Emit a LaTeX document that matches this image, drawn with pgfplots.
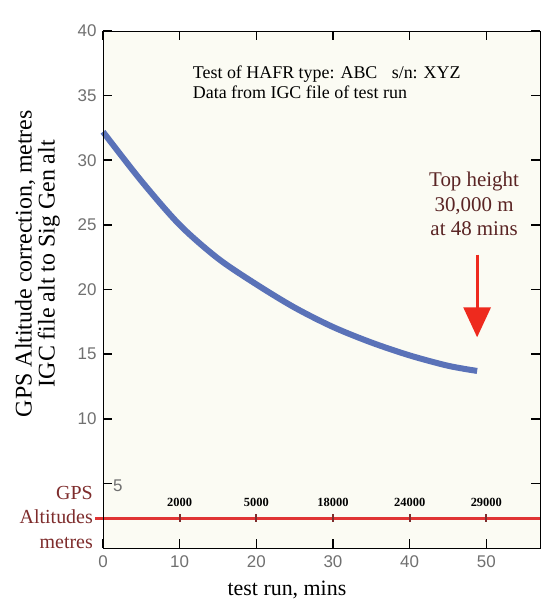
\documentclass[border=0pt]{standalone}
\usepackage{fontspec}
\setmainfont{Liberation Serif}
\setsansfont{Liberation Sans}
\usepackage{pgfplots}
\pgfplotsset{compat=1.18}
\usetikzlibrary{arrows.meta}

\definecolor{curveblue}{HTML}{5A72B8}
\definecolor{altred}{HTML}{E03434}
\definecolor{arrowred}{HTML}{EE2A1E}
\definecolor{darkred}{HTML}{7E2C2C}
\definecolor{notered}{HTML}{5A2424}
\definecolor{tickgray}{HTML}{707070}
\definecolor{cream}{HTML}{FBFBF3}

\begin{document}
\begin{tikzpicture}
\path[use as bounding box, fill=white] (-103bp,-60bp) rectangle (446bp,548bp);
\fill[cream] (0,0) rectangle (437bp,517bp);
\begin{axis}[
  name=ax,
  scale only axis,
  width=437bp, height=517bp,
  xmin=0, xmax=57, ymin=0, ymax=40,
  xtick={0,10,...,50},
  ytick={5,10,...,40},
  yticklabels={,10,15,20,25,30,35,40},
  xtick pos=both, ytick pos=both,
  xticklabel pos=lower, yticklabel pos=left,
  tick align=inside,
  major tick length=9bp,
  every tick/.style={black, line width=1.6pt},
  axis on top,
  axis line style={black, line width=1pt},
  ticklabel style={font=\sffamily\fontsize{17}{17}\selectfont, text=tickgray},
  yticklabel style={xshift=-3bp},
  xticklabel style={yshift=-4bp},
  /pgf/number format/assume math mode=true,
  xlabel={test run, mins},
  xlabel style={font=\fontsize{22}{22}\selectfont, at={(axis description cs:0.421,-0.081)}, anchor=center},
  ylabel={GPS Altitude correction, metres\\IGC file alt to Sig Gen alt},
  ylabel style={font=\fontsize{24}{23}\selectfont, align=center, at={(axis description cs:-0.150,0.55)}, anchor=center},
  clip=false,
]
% altitude reference line
\addplot[altred, line width=3bp] coordinates {(-1,2.3) (57,2.3)};
\addplot[only marks, mark=|, mark size=4bp, mark options={darkred, line width=2bp},
  point meta=explicit symbolic,
  nodes near coords,
  every node near coord/.style={anchor=center, yshift=15.6bp, text=black, font=\bfseries\fontsize{12.5}{12.5}\selectfont}]
  coordinates {(10,2.3) [2000] (20,2.3) [5000] (30,2.3) [18000] (40,2.3) [24000] (50,2.3) [29000]};

% GPS altitude correction
\addplot[curveblue, line width=6bp, smooth] coordinates {
  (0,32.2) (5,28.4) (10,25.0) (15,22.4) (20,20.4) (25,18.6) (30,17.1)
  (35,15.9) (40,14.9) (45,14.1) (48.8,13.7)
};

% top height arrow
\addplot[arrowred, line width=3bp, -{Triangle[width=27bp, length=30bp]}]
  coordinates {(48.8,22.7) (48.8,16.3)};

\node[anchor=west, xshift=9bp, yshift=-2bp, inner sep=1bp, font=\sffamily\fontsize{17}{17}\selectfont, text=tickgray]
  at (axis cs:0,5) {5};
\node[anchor=north west, inner sep=0pt, align=left, font=\fontsize{18}{20}\selectfont]
  at (axis cs:11.7,37.3) {Test of HAFR type: ABC\hspace{0.8em}s/n: XYZ\\Data from IGC file of test run};
\node[align=center, text=notered, font=\fontsize{21}{24.5}\selectfont]
  at (axis cs:48.4,26.6) {Top height\\30,000 m\\at 48 mins};
\node[anchor=east, xshift=-10bp, align=right, inner sep=0pt, text=darkred, font=\fontsize{20}{25}\selectfont]
  at (axis cs:0,2.36) {GPS\\Altitudes\\metres};
\end{axis}
\end{tikzpicture}
\end{document}
